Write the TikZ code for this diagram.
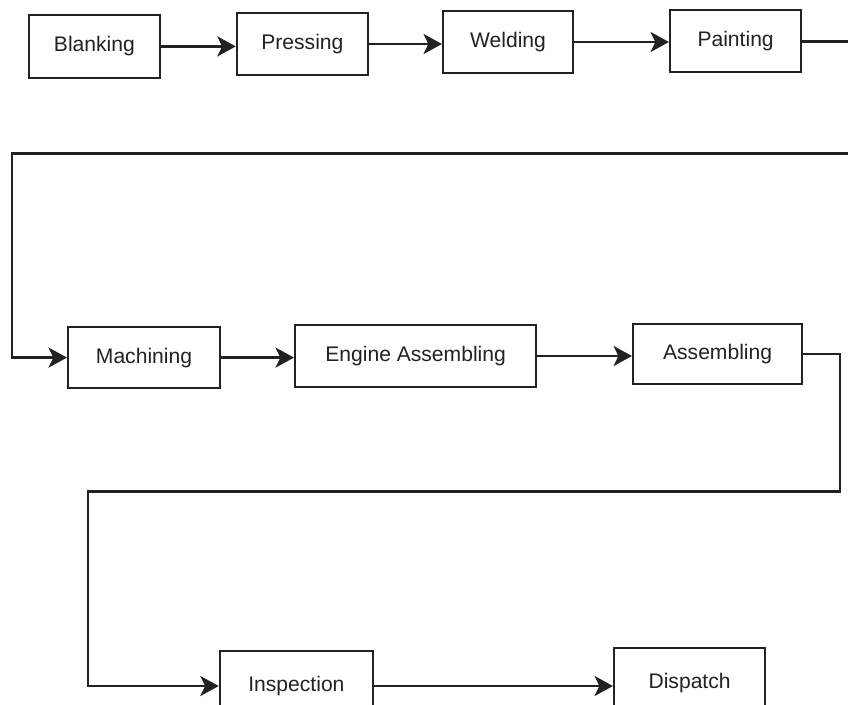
\documentclass[tikz,border=0pt]{standalone}
\usepackage{fontspec}
\setmainfont{Liberation Sans}
\usetikzlibrary{arrows.meta,positioning,calc}
\usepackage{xcolor}
\definecolor{ink}{HTML}{222222}
\tikzset{
  box/.style={draw=ink, line width=1.5pt, align=center, fill=white, minimum height=1.55cm, inner sep=2mm, text=ink, font=\fontsize{15}{18}\selectfont},
  arrow/.style={-{Stealth[length=4.6mm, width=5mm, inset=1.2mm]}, line width=1.9pt, draw=ink},
  link/.style={line width=1.9pt, draw=ink}
}

\begin{document}
\begin{tikzpicture}
  \useasboundingbox (0,0) rectangle (21.2,-17.6);
  \fill[white] (0,0) rectangle (21.2,-17.6);
  % top row
  \node[box, minimum width=3.28cm, minimum height=1.58cm] (blank) at (2.36,-1.16) {Blanking};
  \node[box, minimum width=3.28cm] (press) at (7.56,-1.10) {Pressing};
  \node[box, minimum width=3.25cm] (weld) at (12.70,-1.05) {Welding};
  \node[box, minimum width=3.28cm] (paint) at (18.39,-1.03) {Painting};
  % middle row
  \node[box, minimum width=3.80cm, minimum height=1.53cm] (mach) at (3.60,-8.94) {Machining};
  \node[box, minimum width=6.03cm] (engine) at (10.39,-8.90) {Engine Assembling};
  \node[box, minimum width=4.23cm, minimum height=1.50cm] (assem) at (17.94,-8.85) {Assembling};
  % bottom row
  \node[box, minimum width=3.83cm, minimum height=1.75cm] (insp) at (7.41,-17.15) {Inspection};
  \node[box, minimum width=3.78cm, minimum height=1.75cm] (disp) at (17.24,-17.08) {Dispatch};
  % turning points
  \coordinate (edgeR) at (21.2,-1.0);
  \coordinate (wrapA) at (21.2,-3.83);
  \coordinate (wrapB) at (0.30,-3.83);
  \coordinate (turnR) at (21.0,-12.28);
  \coordinate (turnL) at (2.20,-12.28);
  \draw[arrow] (blank.east) -- (blank.east -| press.west);
  \draw[arrow] (press.east) -- (press.east -| weld.west);
  \draw[arrow] (weld.east) -- (weld.east -| paint.west);
  \draw[link] (paint.east) -- (paint.east -| edgeR);
  \draw[arrow] (wrapA) -- (wrapB) |- (mach.west);
  \draw[arrow] (mach.east) -- (mach.east -| engine.west);
  \draw[arrow] (engine.east) -- (engine.east -| assem.west);
  \draw[arrow] (assem.east) -| (turnR) -- (turnL) |- (insp.west);
  \draw[arrow] (insp.east) -- (insp.east -| disp.west);
\end{tikzpicture}
\end{document}
